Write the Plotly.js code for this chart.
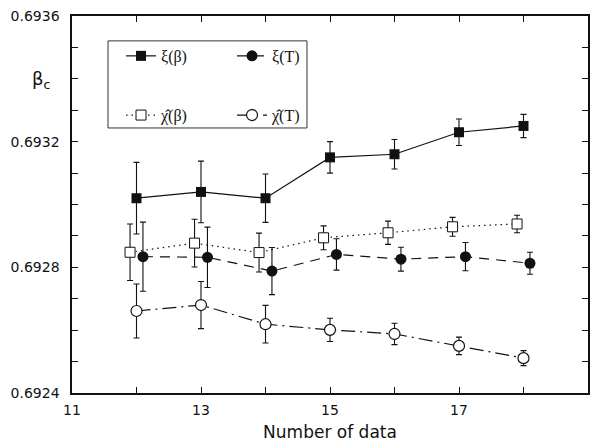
<!DOCTYPE html>
<html>
<head>
<meta charset="utf-8">
<script src="https://cdn.plot.ly/plotly-3.0.1.min.js"></script>
<style>
  html, body { margin: 0; padding: 0; background: #fff; }
  #chart { width: 594px; height: 442px; }
</style>
</head>
<body>
<div id="chart"></div>
<script>
// Critical coupling estimates vs. number of data points, four estimators
const xiBetaN   = [12, 13, 14, 15, 16, 17, 18];
const xiBeta    = [0.69302, 0.69304, 0.69302, 0.69315, 0.69316, 0.69323, 0.69325];
const xiBetaErr = [0.000114, 0.000098, 0.000077, 0.000050, 0.000047, 0.000042, 0.000037];

const xiTN   = [12.1, 13.1, 14.1, 15.1, 16.1, 17.1, 18.1];
const xiT    = [0.692834, 0.692832, 0.692788, 0.692841, 0.692826, 0.692834, 0.692813];
const xiTErr = [0.000110, 0.000096, 0.000075, 0.000050, 0.000038, 0.000045, 0.000035];

const chiBetaN   = [11.9, 12.9, 13.9, 14.9, 15.9, 16.9, 17.9];
const chiBeta    = [0.692848, 0.692877, 0.692847, 0.692894, 0.692910, 0.692929, 0.692938];
const chiBetaErr = [0.000090, 0.000076, 0.000062, 0.000038, 0.000037, 0.000030, 0.000028];

const chiTN   = [12, 13, 14, 15, 16, 17, 18];
const chiT    = [0.692661, 0.692680, 0.692619, 0.692601, 0.692588, 0.692550, 0.692511];
const chiTErr = [0.000086, 0.000075, 0.000060, 0.000037, 0.000034, 0.000028, 0.000024];

const seriesNames = ['ξ(β)', 'ξ(T)', 'χ\u0302(β)', 'χ\u0302(T)'];

const xTickVals = [11, 13, 15, 17, 19];
const yTickVals = [0.6924, 0.6928, 0.6932, 0.6936];
const yTickText = ['0.6924', '0.6928', '0.6932', '0.6936'];

const INK = '#111';
const errStyle = (arr) => ({ type: 'data', array: arr, visible: true, color: INK, thickness: 1.1, width: 3 });

const traces = [
  {
    x: xiBetaN, y: xiBeta, error_y: errStyle(xiBetaErr), name: seriesNames[0],
    mode: 'lines+markers', legend: 'legend',
    line: { color: INK, width: 1.2 },
    marker: { symbol: 'square', size: 10, color: INK }
  },
  {
    x: xiTN, y: xiT, error_y: errStyle(xiTErr), name: seriesNames[1],
    mode: 'lines+markers', legend: 'legend',
    line: { color: INK, width: 1.2, dash: '10px,7px' },
    marker: { symbol: 'circle', size: 11, color: INK }
  },
  {
    x: chiBetaN, y: chiBeta, error_y: errStyle(chiBetaErr), name: seriesNames[2],
    mode: 'lines+markers', legend: 'legend2',
    line: { color: INK, width: 1.2, dash: '1.5px,4px' },
    marker: { symbol: 'square', size: 10, color: '#fff', line: { color: INK, width: 1 } }
  },
  {
    x: chiTN, y: chiT, error_y: errStyle(chiTErr), name: seriesNames[3],
    mode: 'lines+markers', legend: 'legend2',
    line: { color: INK, width: 1.2, dash: '14px,5px,2px,5px' },
    marker: { symbol: 'circle', size: 11, color: '#fff', line: { color: INK, width: 1.2 } }
  }
];

const tickFont = { family: 'DejaVu Sans, Arial, sans-serif', size: 14, color: INK };
const legendFont = { family: 'Liberation Serif, Times New Roman, serif', size: 16, color: INK };

const layout = {
  width: 594, height: 442,
  margin: { l: 72, r: 6, t: 16, b: 49 },
  paper_bgcolor: '#fff', plot_bgcolor: '#fff',
  showlegend: true,
  xaxis: {
    range: [11, 19], tickvals: xTickVals,
    ticks: 'inside', ticklen: 6, tickwidth: 1, tickcolor: INK,
    minor: { dtick: 1, tick0: 11, ticks: 'inside', ticklen: 6, tickwidth: 1, tickcolor: INK },
    showline: true, linecolor: INK, linewidth: 1.6, mirror: 'ticks',
    showgrid: false, zeroline: false,
    tickfont: tickFont, ticklabelstandoff: 4,
    title: { text: 'Number of data', font: { family: 'DejaVu Sans, Arial, sans-serif', size: 17, color: INK }, standoff: 8 }
  },
  yaxis: {
    range: [0.6924, 0.6936], tickvals: yTickVals, ticktext: yTickText,
    ticks: 'inside', ticklen: 6, tickwidth: 1, tickcolor: INK,
    minor: { dtick: 0.0001, tick0: 0.6924, ticks: 'inside', ticklen: 6, tickwidth: 1, tickcolor: INK },
    showline: true, linecolor: INK, linewidth: 1.6, mirror: 'ticks',
    showgrid: false, zeroline: false,
    tickfont: tickFont, ticklabelstandoff: 8
  },
  legend: {
    orientation: 'h', x: 0.095, y: 0.894, xanchor: 'left', yanchor: 'middle',
    entrywidth: 66, entrywidthmode: 'pixels',
    bgcolor: 'rgba(0,0,0,0)', borderwidth: 0, font: legendFont
  },
  legend2: {
    orientation: 'h', x: 0.095, y: 0.737, xanchor: 'left', yanchor: 'middle',
    entrywidth: 66, entrywidthmode: 'pixels',
    bgcolor: 'rgba(0,0,0,0)', borderwidth: 0, font: legendFont
  },
  shapes: [
    { type: 'rect', xref: 'paper', yref: 'paper', x0: 0.0698, x1: 0.4554, y0: 0.703, y1: 0.934,
      line: { color: '#333', width: 1 }, fillcolor: 'rgba(0,0,0,0)', layer: 'below' }
  ],
  annotations: [
    { xref: 'paper', yref: 'paper', x: -0.081, y: 0.867, showarrow: false,
      text: 'β<sub>c</sub>', font: { family: 'DejaVu Sans, Arial, sans-serif', size: 18, color: INK } }
  ]
};

Plotly.newPlot('chart', traces, layout, { staticPlot: true, displayModeBar: false });
</script>
</body>
</html>
